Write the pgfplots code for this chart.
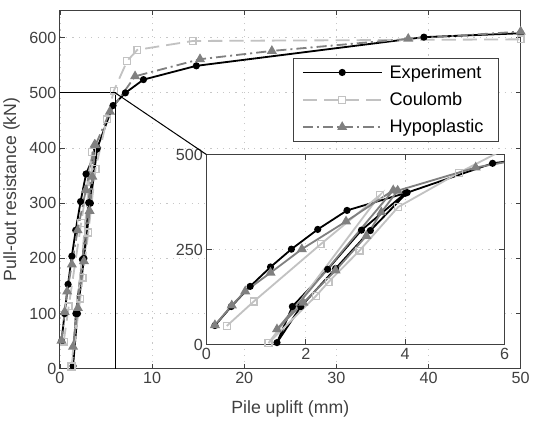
\documentclass[border=0pt]{standalone}
\usepackage{fontspec}
\setmainfont{Liberation Sans}
\usepackage{pgfplots}
\usepackage{pgfplotstable}
\pgfplotsset{compat=1.18}

\definecolor{axgray}{gray}{0.25}
\definecolor{coul}{gray}{0.76}
\definecolor{hypo}{gray}{0.5}
\definecolor{gridc}{gray}{0.78}

% pull-out tests: experiment and two models
\pgfplotstableread{
x y
0.17 50
0.50 100
0.88 153
1.29 204
1.71 251
2.24 303
2.83 353
4.04 400
3.30 300
2.60 200
1.90 100
1.42 5
1.73 100
2.44 198
3.12 301
4.00 398
5.76 477
7.10 500
9.06 524
14.8 549
39.5 601
50.0 608
}\expdata

\pgfplotstableread{
x y
0.41 49
0.95 113
2.30 264
3.49 393
1.25 4
2.20 127
2.46 165
3.08 247
3.86 362
5.08 452
5.85 504
7.30 558
8.40 578
14.4 594
50.0 597
}\coudata

\pgfplotstableread{
x y
0.17 51
0.51 103
0.78 140
1.29 189
1.92 251
2.81 324
3.76 406
1.42 40
1.95 110
2.60 195
3.22 286
3.52 348
3.85 405
5.42 466
8.15 530
15.2 561
23.0 576
37.8 598
50.0 611
}\hypdata

\pgfplotsset{
  mystyle/.style={
    scale only axis,
    axis line style={axgray, line width=1pt},
    tick style={axgray, line width=0.8pt},
    tick align=inside,
    major tick length=5bp,
    grid=major,
    grid style={gridc, dash pattern=on 1.2bp off 5bp, line width=0.9pt},
    ticklabel style={font=\fontsize{16bp}{19bp}\selectfont, text=axgray},
    label style={font=\fontsize{17.5bp}{21bp}\selectfont, text=axgray},
    /pgf/number format/assume math mode=true,
    /pgf/number format/1000 sep={},
  },
  expst/.style={black, line width=1.8bp, mark=*, mark size=2.6bp},
  coust/.style={coul, line width=1.8bp, mark=square, mark size=3.4bp, mark options={solid, line width=1.3bp}},
  hypst/.style={hypo, line width=1.8bp, mark=triangle*, mark size=4bp, mark options={solid}},
}

\begin{document}
\begin{tikzpicture}
\begin{axis}[
    mystyle,
    name=main,
    at={(0,0)}, anchor=south west,
    width=456bp, height=355bp,
    xmin=0, xmax=50, ymin=0, ymax=650,
    xtick={0,10,...,50},
    ytick={0,100,...,600},
    xlabel={Pile uplift (mm)},
    ylabel={Pull-out resistance (kN)},
    xlabel style={at={(axis description cs:0.5,-0.112)}, anchor=center},
    ylabel style={at={(axis description cs:-0.105,0.5)}, anchor=center, rotate=0},
    legend style={at={(0.5066,0.8676)}, anchor=north west, draw=axgray, line width=0.9pt,
        font=\fontsize{18bp}{21bp}\selectfont, row sep=8.5bp, inner xsep=8bp, inner ysep=5bp},
    legend cell align=left,
    legend image code/.code={\draw[mark repeat=2, mark phase=2, #1]
        plot coordinates {(0bp,0bp) (39bp,0bp) (78bp,0bp)};},
]
\addplot[expst] table {\expdata};
\addlegendentry{\makebox[103bp][l]{\hspace{5bp}Experiment}}
\addplot[coust, dash pattern=on 14bp off 7bp] table {\coudata};
\addlegendentry{\makebox[103bp][l]{\hspace{5bp}Coulomb}}
\addplot[hypst, dash pattern=on 10bp off 4bp on 2bp off 4bp] table {\hypdata};
\addlegendentry{\makebox[103bp][l]{\hspace{5bp}Hypoplastic}}

\draw[black, line width=1pt] (axis cs:0,500) -- (axis cs:6,500) -- (axis cs:6,0);
\coordinate (zoompt) at (axis cs:6,500);
\end{axis}

\begin{axis}[
    mystyle,
    name=inset,
    at={(145bp,24bp)}, anchor=south west,
    width=295bp, height=188bp,
    xmin=0, xmax=6, ymin=0, ymax=500,
    xtick={0,2,4,6},
    ytick={0,250,500},
    axis background/.style={fill=white},
]
\addplot[expst] table {\expdata};
\addplot[coust] table {\coudata};
\addplot[hypst] table {\hypdata};
\end{axis}
\draw[black, line width=1pt] (zoompt) -- (inset.north west);
% margins as in the original figure
\path ([yshift=10bp]main.north east) ([xshift=12bp]main.north east);
\end{tikzpicture}
\end{document}
